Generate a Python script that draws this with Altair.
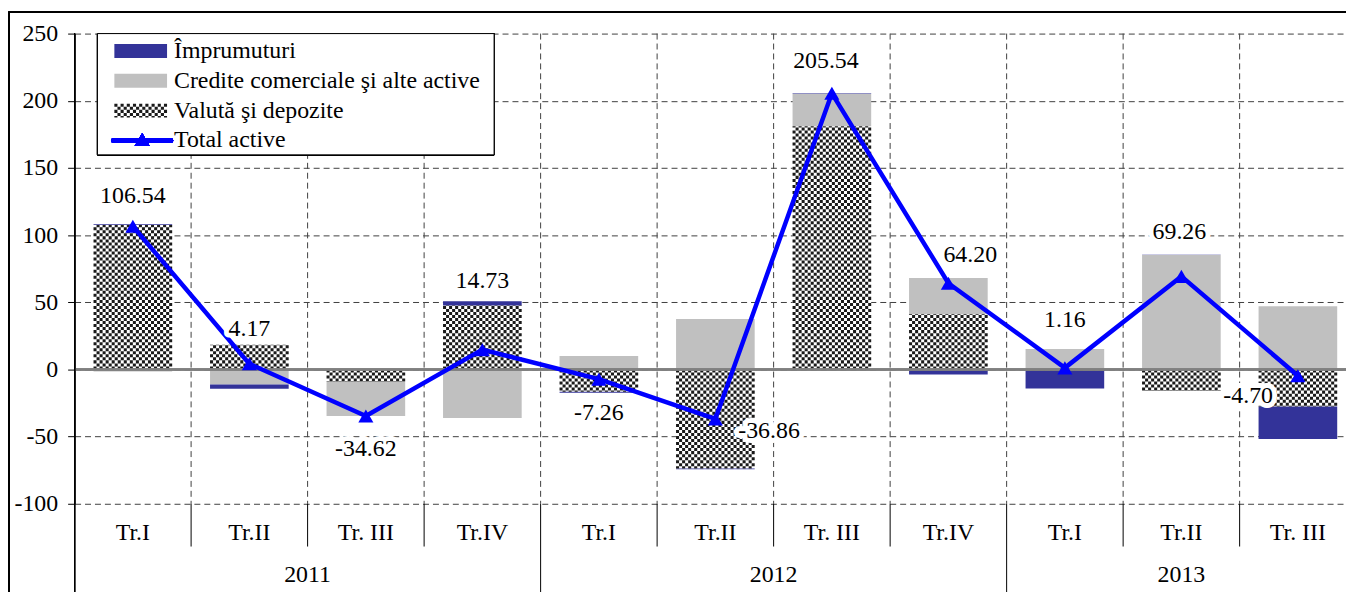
import altair as alt
import pandas as pd

# ---------------- data ----------------
quarters = ["Tr.I", "Tr.II", "Tr. III", "Tr.IV", "Tr.I", "Tr.II", "Tr. III", "Tr.IV", "Tr.I", "Tr.II", "Tr. III"]
years = ["2011", "2012", "2013"]
quarters_per_year = [4, 4, 3]

imprumuturi = [0.4, -3.0, 0.0, 3.3, -0.66, -0.56, 0.3, -3.8, -13.54, 0.3, -24.1]
credite = [-1.46, -11.3, -25.22, -36.1, 10.0, 37.5, 24.24, 27.0, 15.3, 85.1, 47.0]
valuta = [107.6, 18.47, -9.4, 47.53, -16.6, -73.8, 181.0, 41.0, -0.6, -16.14, -27.6]
total_active = [106.54, 4.17, -34.62, 14.73, -7.26, -36.86, 205.54, 64.20, 1.16, 69.26, -4.70]

legend_labels = ["Împrumuturi", "Credite comerciale şi alte active", "Valută şi depozite", "Total active"]

# ---------------- styles / layout ----------------
FONT = "Liberation Serif"
FS = 24
NAVY, GRAY, BLUE, CHK = "#333399", "#C0C0C0", "#0000FF", "#1a1a1a"
GRID = "#404040"
W, H = 1279, 473
n = len(quarters)
STEP = 117.2
# the plot continues past the right edge of the picture, as in the original
xscale = alt.Scale(domain=[0, W / STEP], nice=False, zero=False)
yscale = alt.Scale(domain=[-100, 250], nice=False, zero=False)
PXY = H / 350.0
BAR_W = 0.675
NCOL = 26
COLW = BAR_W / NCOL
SQ = COLW * STEP

yaxis = alt.Axis(values=list(range(-100, 251, 50)), grid=True, gridDash=[6, 4], gridColor=GRID,
                 gridWidth=1, domainColor="black", tickColor="black", tickSize=7,
                 labelFont=FONT, labelFontSize=FS, labelColor="black", labelPadding=10,
                 labelFlush=False, labelOverlap=False, title=None,
                 labelExpr="(datum.value < 0 ? '-' : '') + abs(datum.value)")

def X(f):
    return alt.X(f, scale=xscale, axis=None)

def Y(f):
    return alt.Y(f, scale=yscale, axis=yaxis)

# ---------------- stacked segments ----------------
series_names = ["Valută şi depozite", "Credite comerciale şi alte active", "Împrumuturi"]
series_vals = [valuta, credite, imprumuturi]
series_fill = ["#FFFFFF", GRAY, NAVY]
rows, chk = [], []
for i in range(n):
    pos = neg = 0.0
    for name, vals in zip(series_names, series_vals):
        v = vals[i]
        if v >= 0:
            v0, v1 = pos, pos + v
            pos = v1
        else:
            v0, v1 = neg, neg + v
            neg = v1
        xl = i + (1 - BAR_W) / 2
        rows.append(dict(i=i, series=name, v0=v0, v1=v1, xl=xl, xr=xl + BAR_W))
        if name == series_names[0] and abs(v) > 0:
            for k in range(NCOL):
                chk.append(dict(x=xl + (k + 0.5) * COLW, v0=v0, v1=v1, par=k % 2))
bars = pd.DataFrame(rows)
chkdf = pd.DataFrame(chk)

# ---------------- totals & labels ----------------
label_off = {0: (0, -30), 1: (0, -35), 2: (0, 33), 3: (0, -69), 4: (0, 34), 5: (54, 12),
             6: (-6, -32), 7: (22, -28), 8: (0, -48), 9: (-2, -45), 10: (-50, 20)}
tot = pd.DataFrame({"i": range(n), "total": total_active})
tot["xc"] = tot["i"] + 0.5
tot["txt"] = [f"{v:.2f}" for v in total_active]
tot["lx"] = [r.xc + label_off[r.i][0] / STEP for r in tot.itertuples()]
tot["ly"] = [r.total - label_off[r.i][1] / PXY for r in tot.itertuples()]

# ---------------- category axis ----------------
cat = pd.DataFrame({"xc": [i + 0.5 for i in range(n)], "q": quarters})
bounds = []
acc = 0
year_rows = []
for y, c in zip(years, quarters_per_year):
    year_rows.append(dict(xc=acc + c / 2, year=y))
    for k in range(1, c + 1):
        b = acc + k
        bounds.append(dict(b=b, major=(k == c)))
    acc += c
bnd = pd.DataFrame(bounds)
yrs = pd.DataFrame(year_rows)

# ---------------- layers ----------------
vgrid = alt.Chart(bnd).mark_rule(color=GRID, strokeDash=[6, 4], strokeWidth=1).encode(
    x=X("b:Q"), y=alt.value(0), y2=alt.value(H))

bar_layer = alt.Chart(bars).mark_rect().encode(
    x=X("xl:Q"), x2="xr:Q", y=Y("v0:Q"), y2="v1:Q",
    color=alt.Color("series:N", scale=alt.Scale(domain=series_names, range=series_fill), legend=None))

chk0 = alt.Chart(chkdf).transform_filter("datum.par == 0").mark_rule(
    color=CHK, strokeWidth=SQ, strokeDash=[SQ, SQ], strokeDashOffset=0, strokeCap="butt").encode(
    x=X("x:Q"), y=Y("v0:Q"), y2="v1:Q")
chk1 = alt.Chart(chkdf).transform_filter("datum.par == 1").mark_rule(
    color=CHK, strokeWidth=SQ, strokeDash=[SQ, SQ], strokeDashOffset=SQ, strokeCap="butt").encode(
    x=X("x:Q"), y=Y("v0:Q"), y2="v1:Q")

zero = alt.Chart(tot).mark_rule(color="#808080", strokeWidth=1.5).encode(
    y=alt.Y(datum=0, scale=yscale, axis=yaxis), x=alt.value(0), x2=alt.value(W))

line = alt.Chart(tot).mark_line(color=BLUE, strokeWidth=4.5).encode(x=X("xc:Q"), y=Y("total:Q"))
pts = alt.Chart(tot).mark_point(shape="triangle-up", filled=True, size=230, color=BLUE, opacity=1).encode(
    x=X("xc:Q"), y=Y("total:Q"))

halo = alt.Chart(tot).mark_text(font=FONT, fontSize=FS, stroke="white", strokeWidth=10,
                                strokeJoin="round", fill="white", baseline="middle").encode(
    x=X("lx:Q"), y=Y("ly:Q"), text="txt:N")
labels = alt.Chart(tot).mark_text(font=FONT, fontSize=FS, color="black", baseline="middle").encode(
    x=X("lx:Q"), y=Y("ly:Q"), text="txt:N")

# category axis below plot
qlab = alt.Chart(cat).mark_text(font=FONT, fontSize=FS, color="black", baseline="middle").encode(
    x=X("xc:Q"), y=alt.value(H + 29), text="q:N")
ylab = alt.Chart(yrs).mark_text(font=FONT, fontSize=FS, color="black", baseline="middle").encode(
    x=X("xc:Q"), y=alt.value(H + 72), text="year:N")
minor_ticks = alt.Chart(bnd).transform_filter("!datum.major").mark_rule(color="black", strokeWidth=1).encode(
    x=X("b:Q"), y=alt.value(H), y2=alt.value(H + 43))
major_ticks = alt.Chart(bnd).transform_filter("datum.major").mark_rule(color="black", strokeWidth=1).encode(
    x=X("b:Q"), y=alt.value(H), y2=alt.value(H + 90))
left_line = alt.Chart(tot).mark_rule(color="black", strokeWidth=1).encode(
    x=alt.value(0), y=alt.value(0), y2=alt.value(H + 90))

# outer chart frame
frame_l = alt.Chart(tot).mark_rule(color="black", strokeWidth=1.5).encode(
    x=alt.value(-66), y=alt.value(-22), y2=alt.value(H + 90))
frame_t = alt.Chart(tot).mark_rule(color="black", strokeWidth=1.5).encode(
    x=alt.value(-66), x2=alt.value(W + 10), y=alt.value(-22))

# ---------------- legend (pixel space) ----------------
ROW0, ROWS = 17.5, 30.0
leg_box = alt.Chart(tot).mark_rect(fill="white", stroke="black", strokeWidth=1).encode(
    x=alt.value(23), x2=alt.value(422), y=alt.value(0), y2=alt.value(122))
sw = pd.DataFrame({"k": [0, 1], "fill": [NAVY, GRAY]})
sw["y0"] = ROW0 + ROWS * sw["k"] - 7
sw["y1"] = sw["y0"] + 14
leg_sw = alt.Chart(sw).mark_rect().encode(
    x=alt.value(40), x2=alt.value(93),
    y=alt.Y("y0:Q", scale=None, axis=None), y2="y1:Q",
    color=alt.Color("fill:N", scale=None, legend=None))
LC = 17
lcw = 53 / LC
lchk = pd.DataFrame({"x": [40 + (k + 0.5) * lcw for k in range(LC)], "par": [k % 2 for k in range(LC)]})
lchk["y0"] = ROW0 + ROWS * 2 - 7
lchk["y1"] = lchk["y0"] + 14
leg_chk0 = alt.Chart(lchk).transform_filter("datum.par == 0").mark_rule(
    color=CHK, strokeWidth=lcw, strokeDash=[lcw, lcw], strokeDashOffset=0, strokeCap="butt").encode(
    x=alt.X("x:Q", scale=None, axis=None), y=alt.Y("y0:Q", scale=None, axis=None), y2="y1:Q")
leg_chk1 = alt.Chart(lchk).transform_filter("datum.par == 1").mark_rule(
    color=CHK, strokeWidth=lcw, strokeDash=[lcw, lcw], strokeDashOffset=lcw, strokeCap="butt").encode(
    x=alt.X("x:Q", scale=None, axis=None), y=alt.Y("y0:Q", scale=None, axis=None), y2="y1:Q")
leg_line = alt.Chart(tot).mark_rule(color=BLUE, strokeWidth=4.5, strokeCap="round").encode(
    x=alt.value(39), x2=alt.value(97), y=alt.value(ROW0 + ROWS * 3))
leg_pt = alt.Chart(tot).mark_point(shape="triangle-up", filled=True, size=230, color=BLUE, opacity=1).encode(
    x=alt.value(68), y=alt.value(ROW0 + ROWS * 3 - 1))
lt = pd.DataFrame({"label": legend_labels, "k": range(len(legend_labels))})
lt["y"] = ROW0 + ROWS * lt["k"]
leg_txt = alt.Chart(lt).mark_text(font=FONT, fontSize=FS, color="black", align="left", baseline="middle").encode(
    x=alt.value(100), y=alt.Y("y:Q", scale=None, axis=None), text="label:N")

chart = alt.layer(
    vgrid, bar_layer, chk0, chk1, zero, line, pts, halo, labels,
    qlab, ylab, minor_ticks, major_ticks, left_line, frame_l, frame_t,
    leg_box, leg_sw, leg_chk0, leg_chk1, leg_line, leg_pt, leg_txt,
).properties(
    width=W, height=H,
    padding={"left": 67, "top": 24, "right": 0, "bottom": 87},
    autosize=alt.AutoSizeParams(type="none"),
    background="white",
).configure_view(stroke=None)

chart.save("out.html", embed_options={"renderer": "svg", "actions": False})
